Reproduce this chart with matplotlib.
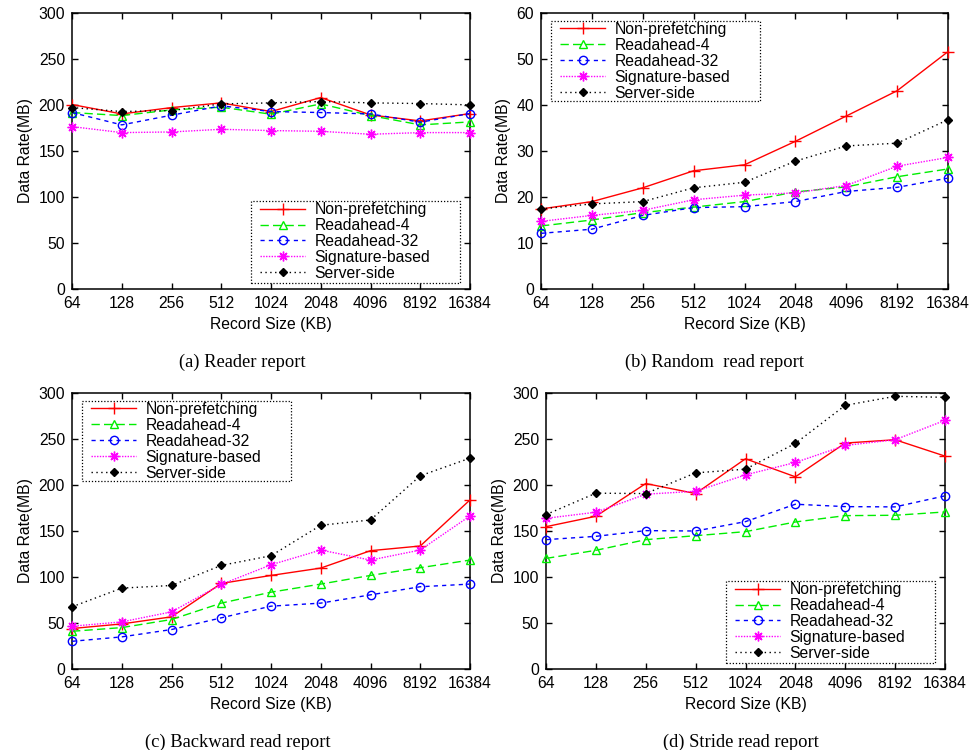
"""Four-panel prefetching benchmark figure: data rate vs record size."""
import matplotlib
matplotlib.use("Agg")
import matplotlib.pyplot as plt
from matplotlib.patches import Rectangle

plt.rcParams['font.family'] = ['Liberation Sans', 'DejaVu Sans']

record_sizes = ["64", "128", "256", "512", "1024", "2048", "4096", "8192", "16384"]
series = ["Non-prefetching", "Readahead-4", "Readahead-32", "Signature-based", "Server-side"]

# (a) Reader report
reader_nonpf = [200.5, 190.3, 197.2, 202.3, 192.9, 208.1, 189.2, 182.7, 190.7]
reader_ra4 = [191.8, 188.5, 194.7, 197.6, 190.0, 201.2, 188.5, 178.4, 181.6]
reader_ra32 = [191.8, 178.4, 188.9, 199.1, 192.9, 191.8, 190.3, 181.3, 190.7]
reader_sig = [176.5, 170.0, 170.7, 173.6, 172.2, 171.4, 168.2, 170.0, 170.0]
reader_srv = [197.2, 192.9, 194.0, 201.2, 202.3, 203.8, 202.3, 201.6, 200.1]

# (b) Random read report
random_nonpf = [17.4, 19.0, 22.0, 25.7, 27.0, 32.1, 37.6, 43.1, 51.6]
random_ra4 = [13.7, 15.0, 16.6, 17.8, 19.0, 21.1, 22.2, 24.4, 26.1]
random_ra32 = [12.1, 13.0, 16.0, 17.7, 17.9, 19.0, 21.2, 22.1, 24.1]
random_sig = [14.7, 16.0, 17.1, 19.4, 20.4, 20.9, 22.5, 26.7, 28.6]
random_srv = [17.4, 18.5, 19.0, 22.0, 23.2, 27.8, 31.1, 31.7, 36.8]

# (c) Backward read report
backward_nonpf = [44.0, 49.0, 56.7, 93.0, 101.7, 109.7, 128.6, 133.7, 183.8]
backward_ra4 = [41.0, 45.0, 53.8, 71.6, 83.5, 92.3, 101.7, 110.1, 118.4]
backward_ra32 = [30.1, 34.9, 42.9, 55.6, 68.3, 71.6, 80.6, 89.4, 92.3]
backward_sig = [46.5, 51.2, 62.1, 91.9, 113.3, 129.3, 118.4, 129.3, 166.4]
backward_srv = [67.6, 87.9, 90.8, 112.6, 123.1, 156.2, 162.0, 210.0, 229.2]

# (d) Stride read report
stride_nonpf = [154.7, 166.0, 201.6, 190.7, 228.5, 208.9, 245.6, 249.2, 231.4]
stride_ra4 = [120.2, 129.0, 140.6, 144.9, 149.3, 159.8, 166.7, 167.1, 170.7]
stride_ra32 = [140.6, 144.2, 150.4, 150.0, 160.2, 179.1, 176.5, 176.2, 188.2]
stride_sig = [163.8, 170.4, 190.0, 193.2, 211.0, 224.5, 243.0, 249.2, 270.3]
stride_srv = [167.8, 191.1, 190.7, 213.2, 217.2, 245.2, 286.6, 296.4, 295.3]

styles = [
    dict(color="#ff0000", ls="-", marker="+", ms=8, mfc="none"),
    dict(color="#00ee00", ls=(0, (6, 3)), marker="^", ms=6, mfc="none"),
    dict(color="#0000ff", ls=(0, (3, 3)), marker="o", ms=6, mfc="none"),
    dict(color="#ff00ff", ls=(0, (1, 1)), marker=(8, 2, 0), ms=7),
    dict(color="#000000", ls=(0, (1, 2.5)), marker="D", ms=4),
]

panels = [
    # axes box (px), data, ymax, ytick step, legend box (px), caption, caption x
    ([72, 13, 470, 289], [reader_nonpf, reader_ra4, reader_ra32, reader_sig, reader_srv],
     300, 50, [250.7, 201, 460, 283], "(a) Reader report", 242),
    ([541, 13, 948, 289], [random_nonpf, random_ra4, random_ra32, random_sig, random_srv],
     60, 10, [550.7, 20.7, 760, 101], "(b) Random  read report", 714),
    ([72, 393, 470, 669], [backward_nonpf, backward_ra4, backward_ra32, backward_sig, backward_srv],
     300, 50, [81.7, 400.7, 291, 481], "(c) Backward read report", 238),
    ([546, 393, 945, 669], [stride_nonpf, stride_ra4, stride_ra32, stride_sig, stride_srv],
     300, 50, [725.7, 581, 935, 663], "(d) Stride read report", 741),
]

W, H = 972, 750
fig = plt.figure(figsize=(W / 100, H / 100), dpi=100)
xs = list(range(len(record_sizes)))

for (x0, y0, x1, y1), data, ymax, ystep, (lx0, ly0, lx1, ly1), caption, capx in panels:
    ax = fig.add_axes([x0 / W, 1 - y1 / H, (x1 - x0) / W, (y1 - y0) / H])
    for name, vals, st in zip(series, data, styles):
        ax.plot(xs, vals, label=name, lw=1.0, mew=1.0, clip_on=False, zorder=3, **st)
    ax.set_xlim(0, len(record_sizes) - 1)
    ax.set_ylim(0, ymax)
    ax.set_xticks(xs)
    ax.set_xticklabels(record_sizes)
    ax.set_yticks(range(0, ymax + 1, ystep))
    ax.tick_params(direction="in", length=4.5, width=1, top=True, right=True,
                   labelsize=11.3, pad=5)
    for sp in ax.spines.values():
        sp.set_linewidth(1.1)
    ax.set_xlabel("Record Size (KB)", fontsize=11.3, labelpad=4)
    ax.set_ylabel("Data Rate(MB)", fontsize=11.3, labelpad=4)

    # gnuplot-style key: dotted box, entries inset from its left edge
    fig.add_artist(Rectangle((lx0 / W, 1 - ly1 / H), (lx1 - lx0) / W, (ly1 - ly0) / H,
                             transform=fig.transFigure, fill=False, ec="black",
                             lw=0.9, ls=(0, (1, 1.5))))
    ax.legend(bbox_to_anchor=((lx0 + 7.5) / W, 1 - (ly0 - 0.5) / H),
              bbox_transform=fig.transFigure, loc="upper left", borderaxespad=0,
              fontsize=11.3, labelspacing=0.06, handlelength=2.9,
              handletextpad=0.6, borderpad=0.1, frameon=False)

    fig.text(capx / W, 1 - (y1 + 73) / H, caption, ha="center", va="center",
             fontsize=13.3, family=["Liberation Serif", "DejaVu Serif"])

fig.savefig("out.png", dpi=100)
